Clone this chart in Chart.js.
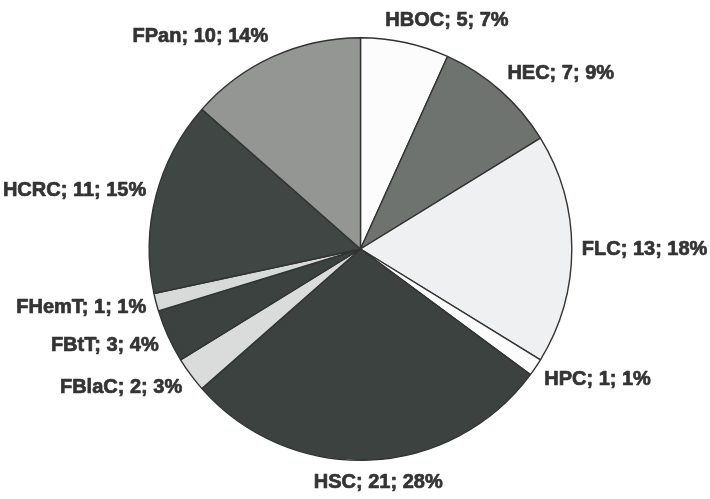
<!DOCTYPE html>
<html>
<head>
<meta charset="utf-8">
<script src="https://cdn.jsdelivr.net/npm/chart.js@4"></script>
<style>
  html, body { margin: 0; padding: 0; background: #ffffff; }
  #wrap { width: 710px; height: 499px; }
</style>
</head>
<body>
<div id="wrap"><canvas id="c" width="710" height="499"></canvas></div>
<script>
// Categories and counts, clockwise from 12 o'clock
const categories = ['HBOC', 'HEC', 'FLC', 'HPC', 'HSC', 'FBlaC', 'FBtT', 'FHemT', 'HCRC', 'FPan'];
const counts = [5, 7, 13, 1, 21, 2, 3, 1, 11, 10];
const sliceColors = ['#fcfcfc', '#6f736f', '#eef0f1', '#fcfcfc', '#3b423f', '#dadcdc', '#3b423f', '#d8dada', '#3f4643', '#949694'];

const total = counts.reduce((a, b) => a + b, 0);

// Outside-end labels "name; count; percent%"
const outsideLabels = {
  id: 'outsideLabels',
  afterDatasetsDraw(chart) {
    const ctx = chart.ctx;
    const meta = chart.getDatasetMeta(0);
    ctx.save();
    ctx.font = 'bold 20px "Liberation Sans", Arial, sans-serif';
    ctx.fillStyle = '#343434';
    ctx.strokeStyle = '#343434';
    ctx.lineWidth = 0.7;
    ctx.lineJoin = 'round';
    ctx.textAlign = 'center';
    ctx.textBaseline = 'middle';
    meta.data.forEach((arc, i) => {
      const v = counts[i];
      const text = categories[i] + '; ' + v + '; ' + Math.round(v / total * 100) + '%';
      const mid = (arc.startAngle + arc.endAngle) / 2;
      const dx = Math.cos(mid), dy = Math.sin(mid);
      const R = arc.outerRadius + 8;
      const ax = arc.x + R * dx;
      const ay = arc.y + R * dy;
      const w = ctx.measureText(text).width;
      const h = 20;
      const sx = Math.max(-1, Math.min(1, 3 * dx));
      const cx = ax + (w / 2 + 2) * sx;
      const cy = ay + (h / 2 + 4) * dy;
      ctx.fillText(text, cx, cy);
      ctx.strokeText(text, cx, cy);
    });
    ctx.restore();
  }
};

new Chart(document.getElementById('c'), {
  type: 'pie',
  data: {
    labels: categories,
    datasets: [{
      data: counts,
      backgroundColor: sliceColors,
      borderColor: '#333333',
      borderWidth: 1.4
    }]
  },
  options: {
    responsive: false,
    animation: false,
    layout: { padding: { top: 37, bottom: 38, left: 11, right: 0 } },
    plugins: {
      legend: { display: false },
      tooltip: { enabled: false }
    }
  },
  plugins: [outsideLabels]
});
</script>
</body>
</html>
